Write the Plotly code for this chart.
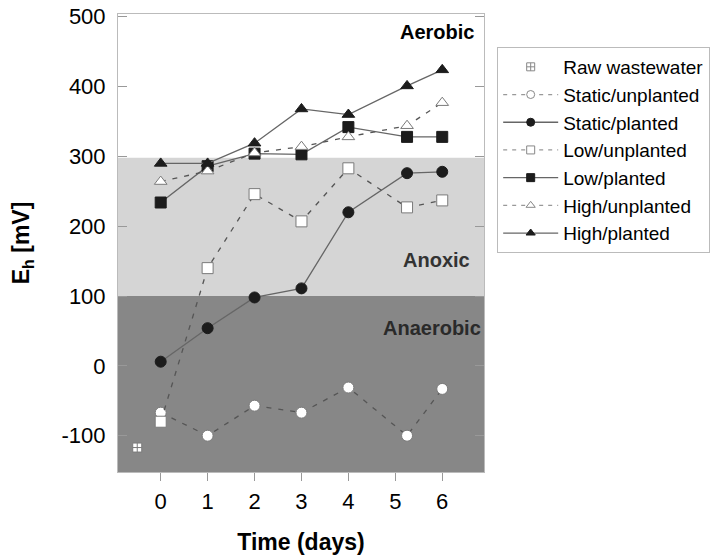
import plotly.graph_objects as go

days = [0, 1, 2, 3, 4, 5.25, 6]
tick_vals = [0, 1, 2, 3, 4, 5, 6]
tick_text = ["0", "1", "2", "3", "4", "5", "6"]
y_tick_vals = [-100, 0, 100, 200, 300, 400, 500]
y_tick_text = ["-100", "0", "100", "200", "300", "400", "500"]

raw_x = [-0.5]
raw_y = [-117]

static_unplanted = [-67, -100, -57, -67, -31, -100, -33]
static_planted = [6, 54, 98, 111, 220, 276, 278]
low_unplanted = [-80, 140, 246, 207, 283, 227, 237]
low_planted = [234, 286, 304, 303, 342, 328, 328]
high_unplanted = [264, 279, 305, 314, 328, 344, 377]
high_planted = [290, 290, 319, 368, 360, 401, 424]

zone_bounds = [-152, 100, 298]

FILL = "#1c1c1c"
OPEN_LINE = "#7a7a7a"
SOLID = "#666666"
DASH = "#555555"
FONT = "Liberation Sans, Arial"

fig = go.Figure()

def add(name, x, y, symbol, planted, group):
    if planted:
        marker = dict(symbol=symbol, size=11, color=FILL, line=dict(color=FILL, width=1))
        line = dict(color=SOLID, width=1.3)
        lmarker = dict(symbol=symbol, size=8, color=FILL, line=dict(color=FILL, width=1))
        lline = dict(color=SOLID, width=1.3)
    else:
        marker = dict(symbol=symbol, size=11, color="white", line=dict(color=OPEN_LINE, width=1))
        line = dict(color=DASH, width=1.3, dash="5px,7px")
        lmarker = dict(symbol=symbol, size=8, color="white", line=dict(color="#888888", width=1))
        lline = dict(color="#999999", width=1.2, dash="4px,5px")
    fig.add_trace(go.Scatter(x=x, y=y, name=name, mode="lines+markers",
                             marker=marker, line=line, showlegend=False))
    fig.add_trace(go.Scatter(x=[None], y=[None], name=name, mode="lines+markers",
                             marker=lmarker, line=lline, legendgroup=group,
                             showlegend=True))

fig.add_trace(go.Scatter(x=raw_x, y=raw_y, name="Raw wastewater", mode="markers",
                         marker=dict(symbol="square-cross", size=9, color="white",
                                     line=dict(color=OPEN_LINE, width=1)),
                         showlegend=False))
fig.add_trace(go.Scatter(x=[None], y=[None], name="Raw wastewater", mode="markers",
                         marker=dict(symbol="square-cross", size=8, color="white",
                                     line=dict(color="#888888", width=1)),
                         legendgroup="g0", showlegend=True))
add("Static/unplanted", days, static_unplanted, "circle", False, "g1")
add("Static/planted", days, static_planted, "circle", True, "g2")
add("Low/unplanted", days, low_unplanted, "square", False, "g3")
add("Low/planted", days, low_planted, "square", True, "g4")
add("High/unplanted", days, high_unplanted, "triangle-up", False, "g5")
add("High/planted", days, high_planted, "triangle-up", True, "g6")

fig.add_shape(type="rect", xref="paper", yref="y", x0=0, x1=1,
              y0=zone_bounds[0], y1=zone_bounds[1], fillcolor="#878787",
              line=dict(width=0), layer="below")
fig.add_shape(type="rect", xref="paper", yref="y", x0=0, x1=1,
              y0=zone_bounds[1], y1=zone_bounds[2], fillcolor="#d5d5d5",
              line=dict(width=0), layer="below")

fig.add_annotation(x=0.978, xref="paper", y=478, yref="y", text="<b>Aerobic</b>",
                   showarrow=False, xanchor="right", yanchor="middle",
                   font=dict(size=20, color="black", family=FONT))
fig.add_annotation(x=0.967, xref="paper", y=152, yref="y", text="<b>Anoxic</b>",
                   showarrow=False, xanchor="right", yanchor="middle",
                   font=dict(size=20, color="#333333", family=FONT))
fig.add_annotation(x=0.997, xref="paper", y=54, yref="y", text="<b>Anaerobic</b>",
                   showarrow=False, xanchor="right", yanchor="middle",
                   font=dict(size=20, color="#2a2a2a", family=FONT))

fig.update_layout(
    width=719, height=559,
    margin=dict(l=118, r=235, t=14, b=87, autoexpand=False),
    paper_bgcolor="white", plot_bgcolor="white",
    font=dict(family=FONT, size=22, color="black"),
    showlegend=True,
    legend=dict(x=1.036, y=0.928, xanchor="left", yanchor="top",
                bordercolor="#bbbbbb", borderwidth=1, bgcolor="white",
                font=dict(size=19), tracegroupgap=0, itemwidth=55),
    xaxis=dict(range=[-0.91, 6.89], tickvals=tick_vals, ticktext=tick_text,
               ticks="outside", ticklen=8, tickcolor="#999999",
               showline=True, linecolor="#bbbbbb", mirror=True,
               showgrid=False, zeroline=False, ticklabelstandoff=2, automargin=False,
               title=dict(text="<b>Time (days)</b>", font=dict(size=23), standoff=20)),
    yaxis=dict(range=[-152, 504], tickvals=y_tick_vals, ticktext=y_tick_text,
               ticks="inside", ticklen=9, tickcolor="#999999",
               showline=True, linecolor="#bbbbbb", mirror="ticks",
               showgrid=False, zeroline=False, ticklabelstandoff=7, automargin=False,
               title=dict(text="<b>E<sub>h</sub> [mV]</b>", font=dict(size=23), standoff=25)),
)

fig.write_html("out.html")
